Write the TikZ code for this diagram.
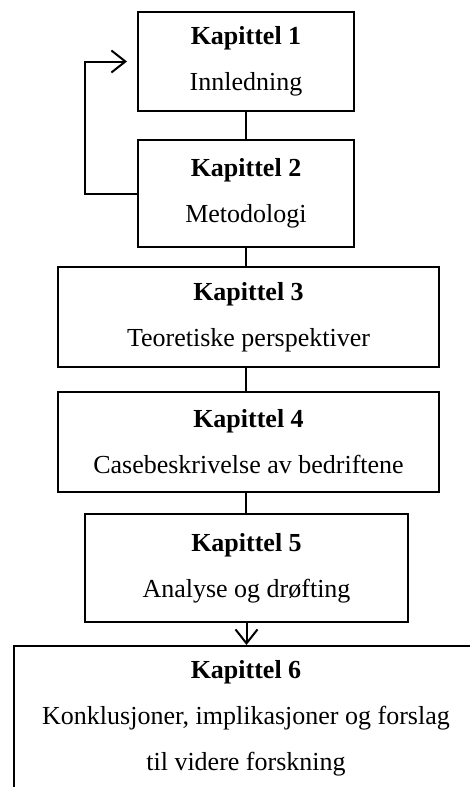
\documentclass[tikz,border=0pt]{standalone}
\usepackage{fontspec}
\setmainfont{Liberation Serif}
\usepackage{tikz}
\usetikzlibrary{arrows.meta, positioning}
\tikzset{
  chapbox/.style={rectangle, draw=black, fill=white, line width=1pt,
    align=center, inner sep=0pt, font=\fontsize{13}{23}\selectfont},
  arrow/.style={-{Straight Barb[length=7pt, width=11pt]}, line width=1pt, color=black},
  line/.style={line width=1pt, color=black}
}

\begin{document}
\begin{tikzpicture}[x=0.5pt, y=-0.5pt]
  \useasboundingbox (0,0) rectangle (470,787);
  \clip (0,0) rectangle (470,787);

  % Chapters
  \node[chapbox, minimum width=108pt, minimum height=49.5pt] (kap1) at (246,61.5) {\textbf{Kapittel 1}\\Innledning};
  \node[chapbox, minimum width=108pt, minimum height=53.5pt] (kap2) at (246,193.5) {\textbf{Kapittel 2}\\Metodologi};
  \node[chapbox, minimum width=190.5pt, minimum height=50pt] (kap3) at (248.5,317) {\textbf{Kapittel 3}\\Teoretiske perspektiver};
  \node[chapbox, minimum width=190.5pt, minimum height=50pt] (kap4) at (248.5,442) {\textbf{Kapittel 4}\\Casebeskrivelse av bedriftene};
  \node[chapbox, minimum width=161.5pt, minimum height=54pt] (kap5) at (246.5,568) {\textbf{Kapittel 5}\\Analyse og drøfting};
  \node[chapbox, minimum width=232pt, minimum height=72.5pt] (kap6) at (246,718.5) {\textbf{Kapittel 6}\\Konklusjoner, implikasjoner og forslag\\til videre forskning};

  % Connections
  \draw[line] (kap1) -- (kap2);
  \draw[line] (kap2.south -| kap1.south) -- (kap3.north -| kap1.south);
  \draw[line] (kap3.south -| kap1.south) -- (kap4.north -| kap1.south);
  \draw[line] (kap4.south -| kap1.south) -- (kap5.north -| kap1.south);
  \draw[arrow] (kap5) -- (kap6.north -| kap5.south);

  % Back to chapter 1
  \draw[arrow, shorten >=5pt] (kap2.west) -- ++(-26pt,0) |- (kap1.west);
\end{tikzpicture}
\end{document}
